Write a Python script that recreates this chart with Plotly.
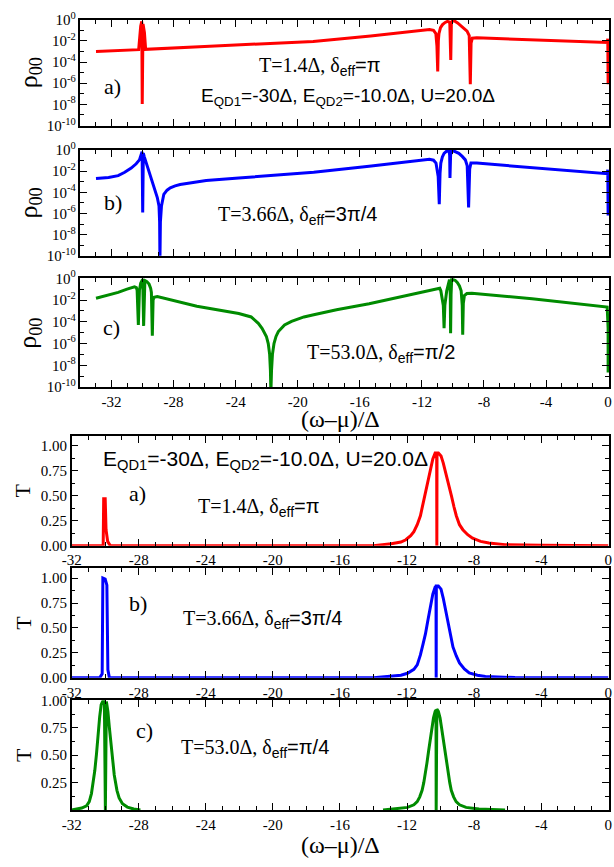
import plotly.graph_objects as go

W, H = 614, 867

# ---------------- rho_00 (log scale), three parameter sets ----------------
rho_a_w = [-33.0, -31.0, -30.25, -30.12, -30.05, -30.02, -29.97, -29.88, -29.8,
           -26.0, -22.0, -19.0, -15.3, -12.0, -11.51, -11.25, -11.1, -11.03,
           -10.98, -10.94, -10.9, -10.8, -10.67, -10.5, -10.35, -10.25, -10.2,
           -10.14, -10.1, -10.04, -9.9, -9.7, -9.51, -9.3, -9.09, -8.95,
           -8.88, -8.83, -8.75, -8.46, -4.9, -0.06, -0.02, 0.0]
rho_a = [1.0e-3, 1.4e-3, 1.5e-3, 0.25, 0.7, 1.1e-8, 0.4, 0.063, 1.6e-3,
         3.0e-3, 5.6e-3, 8.9e-3, 0.03, 0.095, 0.12, 0.1, 0.05, 3.2e-3,
         1.3e-5, 0.01, 0.05, 0.18, 0.35, 0.56, 0.7, 0.63, 0.45,
         1.6e-4, 0.56, 0.8, 0.76, 0.5, 0.28, 0.16, 0.085, 0.032,
         8e-7, 6.3e-3, 0.018, 0.02, 0.0126, 7.1e-3, 0.016, 8e-7]

rho_b_w = [-33.0, -32.19, -31.57, -31.15, -30.73, -30.41, -30.2, -30.1, -30.03,
           -29.99, -29.95, -29.89, -29.68, -29.47, -29.26, -29.05, -28.94, -28.9,
           -28.88, -28.85, -28.78, -28.63, -28.42, -28.21, -27.9, -27.58, -26.74,
           -25.9, -23.8, -21.7, -18.97, -15.4, -11.51, -11.25, -11.09, -10.95,
           -10.88, -10.83, -10.78, -10.68, -10.57, -10.42, -10.25, -10.21, -10.19,
           -10.15, -10.1, -9.9, -9.62, -9.4, -9.2, -9.08, -8.99, -8.92,
           -8.84, -8.46, -0.06, -0.02, 0.0]
rho_b = [2.0e-3, 2.5e-3, 3.8e-3, 7.8e-3, 0.0195, 0.05, 0.117, 0.28, 0.7,
         1.26e-6, 0.5, 0.24, 0.028, 3.3e-3, 3.8e-4, 3.2e-5, 5.2e-6, 1.6e-7,
         3e-11, 1.6e-7, 5.2e-6, 6.5e-5, 1.6e-4, 2.7e-4, 4.1e-4, 5.5e-4, 8.5e-4,
         1.3e-3, 2.3e-3, 4.1e-3, 7.8e-3, 0.029, 0.135, 0.11, 0.058, 3.2e-3,
         7.6e-6, 6.3e-3, 0.058, 0.22, 0.49, 0.76, 0.87, 0.32, 2.3e-3,
         0.32, 0.87, 0.76, 0.49, 0.25, 0.117, 0.032, 3.7e-6, 0.016,
         0.058, 0.058, 5.8e-3, 0.014, 6.3e-7]

rho_c_w = [-33.0, -32.3, -31.57, -31.0, -30.7, -30.52, -30.4, -30.35, -30.27,
           -30.2, -30.12, -30.05, -29.99, -29.93, -29.85, -29.72, -29.58, -29.48,
           -29.43, -29.37, -29.32, -29.26, -29.05, -26.5, -23.8, -23.0, -22.54,
           -22.3, -22.15, -22.02, -21.9, -21.81, -21.76, -21.73, -21.69, -21.63,
           -21.53, -21.4, -21.25, -21.05, -20.85, -20.4, -19.6, -18.97, -17.5,
           -15.4, -13.0, -11.2, -10.85, -10.78, -10.62, -10.57, -10.52, -10.4,
           -10.3, -10.22, -10.17, -10.15, -10.12, -10.08, -10.0, -9.85, -9.72,
           -9.58, -9.47, -9.4, -9.37, -9.33, -9.26, -9.1, -8.78, -4.9,
           -0.06, 0.0, 0.0]
rho_c = [0.0148, 0.026, 0.051, 0.1, 0.14, 0.166, 0.14, 0.08, 5.1e-5,
         0.08, 0.35, 0.66, 0.81, 4.2e-5, 0.63, 0.5, 0.29, 0.126,
         0.05, 5.1e-6, 0.01, 0.018, 0.021, 2.7e-3, 5.8e-4, 2.8e-4, 7.2e-5,
         2.5e-5, 1.0e-5, 4.5e-6, 1.0e-6, 1.0e-7, 3.2e-9, 3e-11, 3.2e-9, 1.0e-7,
         1.0e-6, 4.5e-6, 1.26e-5, 2.8e-5, 5.1e-5, 1.1e-4, 2.8e-4, 4.5e-4, 1.26e-3,
         4.6e-3, 0.025, 0.102, 0.12, 0.072, 3.2e-3, 2.6e-5, 3.2e-3, 0.072,
         0.32, 0.76, 0.032, 8.9e-6, 0.032, 0.8, 0.8, 0.63, 0.41,
         0.2, 0.072, 3.2e-3, 6.3e-6, 5e-3, 0.026, 0.04, 0.042, 0.013,
         2.3e-3, 2.5e-5, 2.2e-9]

# ---------------- transmission T, same three parameter sets ----------------
tr_a_w = [-32.0, -30.12, -30.09, -30.0, -29.95, -29.85, -29.7, -14.0, -12.94,
          -12.36, -12.07, -11.78, -11.59, -11.39, -11.2, -11.04, -10.9, -10.75,
          -10.61, -10.46, -10.32, -10.23, -10.22, -10.21, -10.13, -9.97, -9.84,
          -9.68, -9.55, -9.35, -9.2, -9.06, -8.87, -8.67, -8.38, -8.09,
          -7.61, -7.12, -6.15, -4.0, 0.0]
tr_a = [0.0, 0.0, 0.47, 0.47, 0.16, 0.04, 0.0, 0.0, 0.02,
        0.036, 0.059, 0.10, 0.14, 0.21, 0.30, 0.42, 0.53, 0.65,
        0.76, 0.87, 0.93, 0.93, 0.0, 0.93, 0.93, 0.90, 0.83,
        0.73, 0.63, 0.50, 0.39, 0.30, 0.21, 0.16, 0.11, 0.075,
        0.043, 0.026, 0.01, 0.003, 0.0]

tr_b_w = [-32.0, -30.33, -30.18, -30.14, -30.0, -29.9, -29.84, -29.75, -14.0,
          -12.94, -12.36, -11.97, -11.59, -11.39, -11.2, -11.04, -10.9, -10.75,
          -10.61, -10.46, -10.32, -10.27, -10.26, -10.25, -10.13, -9.97, -9.84,
          -9.68, -9.55, -9.39, -9.26, -9.06, -8.87, -8.58, -8.29, -7.8,
          -7.32, -5.56, 0.0]
tr_b = [0.0, 0.0, 0.04, 1.0, 0.99, 0.93, 0.08, 0.0, 0.0,
        0.013, 0.026, 0.046, 0.085, 0.13, 0.23, 0.34, 0.44, 0.58,
        0.71, 0.84, 0.91, 0.92, 0.0, 0.92, 0.92, 0.89, 0.80,
        0.67, 0.54, 0.41, 0.31, 0.22, 0.15, 0.09, 0.05, 0.026,
        0.013, 0.003, 0.0]

tr_c_w = [-32.0, -31.4, -31.11, -30.95, -30.82, -30.72, -30.62, -30.52, -30.43,
          -30.33, -30.24, -30.12, -30.05, -29.99, -29.93, -29.84, -29.75, -29.65,
          -29.55, -29.46, -29.3, -29.17, -28.97, -28.68, -28.3, -27.9,
          None,
          -13.43, -12.56, -11.97, -11.59, -11.39, -11.24, -11.1, -11.0, -10.9,
          -10.81, -10.71, -10.61, -10.52, -10.42, -10.32, -10.27, -10.26, -10.25,
          -10.22, -10.13, -10.03, -9.94, -9.84, -9.74, -9.65, -9.55, -9.45,
          -9.36, -9.22, -9.07, -8.87, -8.48, -7.71, -6.15]
tr_c = [0.0, 0.018, 0.039, 0.077, 0.15, 0.24, 0.36, 0.51, 0.69,
        0.85, 0.96, 1.0, 1.0, 0.0, 0.99, 0.9, 0.75, 0.6,
        0.45, 0.32, 0.18, 0.11, 0.057, 0.027, 0.009, 0.0,
        None,
        0.0, 0.012, 0.024, 0.048, 0.077, 0.12, 0.18, 0.25, 0.33,
        0.43, 0.54, 0.64, 0.75, 0.84, 0.9, 0.91, 0.0, 0.91,
        0.92, 0.9, 0.84, 0.75, 0.64, 0.54, 0.43, 0.33, 0.25,
        0.18, 0.12, 0.077, 0.048, 0.024, 0.009, 0.0]

x_ticks = [-32, -28, -24, -20, -16, -12, -8, -4, 0]
x_ticktext = ["-32", "-28", "-24", "-20", "-16", "-12", "-8", "-4", "0"]
rho_ticks = [1e-10, 1e-8, 1e-6, 1e-4, 1e-2, 1]
rho_ticktext = ["10<sup>-10</sup>", "10<sup>-8</sup>", "10<sup>-6</sup>",
                "10<sup>-4</sup>", "10<sup>-2</sup>", "10<sup>0</sup>"]
rho_minor = [1e-9, 1e-7, 1e-5, 1e-3, 1e-1]
tr_ticks = [0.0, 0.25, 0.5, 0.75, 1.0]
tr_ticktext = ["0.00", "0.25", "0.50", "0.75", "1.00"]

RED, BLUE, GREEN = "rgb(255,0,0)", "rgb(0,0,255)", "rgb(0,139,0)"
SERIF = "Liberation Serif"
SANS = "Liberation Sans"


def px_x(p):
    return p / W


def px_y(p):
    return 1 - p / H


# panel frames in pixels: (left, right, top, bottom)
panels = [
    (72, 612, 10, 118),
    (72, 612, 143, 251),
    (72, 612, 274, 385),
    (63, 612, 435, 547),
    (63, 612, 570, 682),
    (63, 612, 705, 817),
]

series = [
    (rho_a_w, rho_a, RED), (rho_b_w, rho_b, BLUE), (rho_c_w, rho_c, GREEN),
    (tr_a_w, tr_a, RED), (tr_b_w, tr_b, BLUE), (tr_c_w, tr_c, GREEN),
]

fig = go.Figure()
for i, (xs, ys, col) in enumerate(series):
    k = "" if i == 0 else str(i + 1)
    fig.add_trace(go.Scatter(x=xs, y=ys, mode="lines", xaxis="x" + k, yaxis="y" + k,
                             line=dict(color=col, width=3), showlegend=False,
                             hoverinfo="skip"))

axis_common = dict(showline=True, linecolor="black", linewidth=1.5, mirror="ticks",
                   ticks="inside", ticklen=7, tickwidth=1.2, tickcolor="black",
                   showgrid=False, zeroline=False, ticklabeloverflow="allow",
                   tickfont=dict(family=SERIF, size=15, color="black"))

layout = dict(width=W, height=H, margin=dict(l=0, r=0, t=0, b=0),
              paper_bgcolor="white", plot_bgcolor="white", autosize=False)

for i, (l, r, t, b) in enumerate(panels):
    k = "" if i == 0 else str(i + 1)
    xa = dict(axis_common, domain=[px_x(l), px_x(r)], anchor="y" + k,
              tickmode="array", tickvals=x_ticks, ticktext=x_ticktext,
              minor=dict(ticks="inside", ticklen=4, tickwidth=1, tickcolor="black",
                         dtick=1, tick0=0, showgrid=False))
    if i < 3:
        xa["range"] = [-34, 0.06]
        xa["showticklabels"] = (i == 2)
        ya = dict(axis_common, type="log", range=[-10, 0], tickmode="array",
                  tickvals=rho_ticks, ticktext=rho_ticktext,
                  minor=dict(ticks="inside", ticklen=4, tickwidth=1, tickcolor="black",
                             tickmode="array", tickvals=rho_minor, showgrid=False))
    else:
        xa["range"] = [-32, 0.05]
        ytop = 1.0 if i == 5 else 1.1
        tv = tr_ticks[1:] if i == 5 else tr_ticks
        tt = tr_ticktext[1:] if i == 5 else tr_ticktext
        ya = dict(axis_common, range=[0, ytop], tickmode="array",
                  tickvals=tv, ticktext=tt,
                  minor=dict(ticks="inside", ticklen=4, tickwidth=1, tickcolor="black",
                             dtick=0.125, tick0=0, showgrid=False))
    ya["domain"] = [px_y(b), px_y(t)]
    ya["anchor"] = "x" + k
    layout["xaxis" + k] = xa
    layout["yaxis" + k] = ya

fig.update_layout(**layout)


def sans(s):
    return "<span style=\"font-family:'Liberation Sans'\">" + s + "</span>"


def label(text, x, y, size=20, family=SERIF, xanchor="left", angle=0):
    fig.add_annotation(text=text, x=px_x(x), y=px_y(y), xref="paper", yref="paper",
                       xanchor=xanchor, yanchor="middle", showarrow=False,
                       textangle=angle,
                       font=dict(family=family, size=size, color="black"))


e_text = "E<sub>QD1</sub>=-30Δ, E<sub>QD2</sub>=-10.0Δ, U=20.0Δ"

# upper block
label("a)", 94, 78, size=22)
label("T=1.4Δ, δ" + sans("<sub>eff</sub>=π"), 252, 58)
label(e_text, 193, 89, size=19, family=SANS)
label("b)", 94, 197, size=22)
label("T=3.66Δ, δ" + sans("<sub>eff</sub>=3π/4"), 210, 210)
label("c)", 93, 324, size=22)
label("T=53.0Δ, δ" + sans("<sub>eff</sub>=π/2"), 301, 351)
label("(ω–μ)/Δ", 338, 418, size=24, xanchor="center")

# lower block
label(e_text, 93, 460, size=21, family=SANS)
label("a)", 120, 494, size=22)
label("T=1.4Δ, δ" + sans("<sub>eff</sub>=π"), 190, 508)
label("b)", 120, 606, size=22)
label("T=3.66Δ, δ" + sans("<sub>eff</sub>=3π/4"), 175, 622)
label("c)", 127, 736, size=22)
label("T=53.0Δ, δ" + sans("<sub>eff</sub>=π/4"), 173, 754)
label("(ω–μ)/Δ", 338, 853, size=24, xanchor="center")

# y titles
for yc in (64, 197, 330):
    label("ρ<sub>00</sub>", 20, yc, size=26, xanchor="center", angle=-90)
for yc in (491, 626, 761):
    label("T", 13, yc, size=22, xanchor="center", angle=-90)

fig.write_html("out.html")
